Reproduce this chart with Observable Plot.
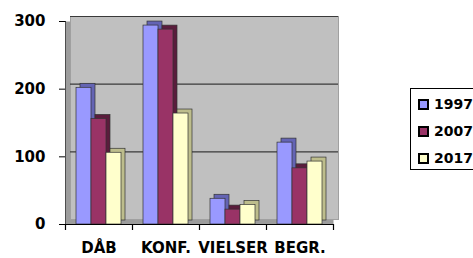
<!DOCTYPE html>
<html>
<head>
<meta charset="utf-8">
<script src="https://cdn.jsdelivr.net/npm/d3@7"></script>
<script src="https://cdn.jsdelivr.net/npm/@observablehq/plot@0.6"></script>
<style>
  html, body { margin: 0; padding: 0; background: #fff; }
  #wrap { position: relative; width: 473px; height: 258px; overflow: hidden; }
  #legend { position: absolute; left: 410px; top: 88px; width: 90px; height: 80px;
    border: 1px solid #000; background: #fff; font-family: "DejaVu Sans", sans-serif;
    font-weight: bold; font-size: 14px; }
  .item { position: absolute; left: 7px; height: 16px; display: flex; align-items: center; }
  .sw { width: 7px; height: 7px; border: 2px solid #000; margin-right: 5px; }
</style>
</head>
<body>
<div id="wrap"></div>
<script>
const categories = ["DÅB", "KONF.", "VIELSER", "BEGR."];
const years = ["1997", "2007", "2017"];
const v1997 = [202, 294, 38, 121];
const v2007 = [156, 288, 22, 83];
const v2017 = [106, 164, 29, 93];
const yTicks = [0, 100, 200, 300];
const gridValues = [100, 200, 300];

const series = [
  {year: "1997", values: v1997, front: "#9999ff", side: "#6464b4", inL: 11, inR: 41},
  {year: "2007", values: v2007, front: "#993366", side: "#5a1c3c", inL: 26, inR: 26},
  {year: "2017", values: v2017, front: "#ffffcc", side: "#bdbd8c", inL: 41, inR: 11}
];

const barMarks = [];
for (const s of series) {
  const data = categories.map((c, i) => ({cat: c, value: s.values[i]}));
  barMarks.push(Plot.barY(data, {x: "cat", y: "value", fill: s.side, stroke: "#333", strokeWidth: 0.7,
    insetLeft: s.inL, insetRight: s.inR, dx: 4, dy: -4}));
  barMarks.push(Plot.barY(data, {x: "cat", y: "value", fill: s.front, stroke: "#333", strokeWidth: 0.7,
    insetLeft: s.inL, insetRight: s.inR}));
}

const chart = Plot.plot({
  width: 473,
  height: 258,
  marginLeft: 65,
  marginRight: 140,
  marginTop: 21,
  marginBottom: 34,
  style: {fontFamily: "DejaVu Sans, sans-serif", fontWeight: "bold", fontSize: "15px", color: "#000", background: "#fff"},
  x: {domain: categories, padding: 0, label: null, tickSize: 0, tickPadding: 18},
  y: {domain: [0, 300], ticks: yTicks, label: null, tickSize: 6, tickPadding: 14, line: true},
  marks: [
    Plot.frame({fill: "#9c9c9c"}),
    Plot.frame({fill: "#c0c0c0", stroke: "#a0a0a0", dx: 5, dy: -5}),
    Plot.ruleY(gridValues, {stroke: "#3a3a3a", strokeWidth: 1.2, dx: 5, dy: -5}),
    ...barMarks,
    Plot.ruleY([0], {stroke: "#000"}),
    Plot.tickX(categories, {x: d => d, dx: -33.5, insetTop: 203, insetBottom: -6, stroke: "#000", strokeWidth: 1.2}),
    Plot.tickX([categories[categories.length - 1]], {x: d => d, dx: 33.5, insetTop: 203, insetBottom: -6, stroke: "#000", strokeWidth: 1.2})
  ]
});
document.getElementById("wrap").appendChild(chart);

const legend = document.createElement("div");
legend.id = "legend";
series.forEach((s, i) => {
  const it = document.createElement("div");
  it.className = "item";
  it.style.top = (7 + i * 27) + "px";
  const sw = document.createElement("div");
  sw.className = "sw";
  sw.style.background = s.front;
  it.appendChild(sw);
  it.appendChild(document.createTextNode(s.year));
  legend.appendChild(it);
});
document.getElementById("wrap").appendChild(legend);
</script>
</body>
</html>
